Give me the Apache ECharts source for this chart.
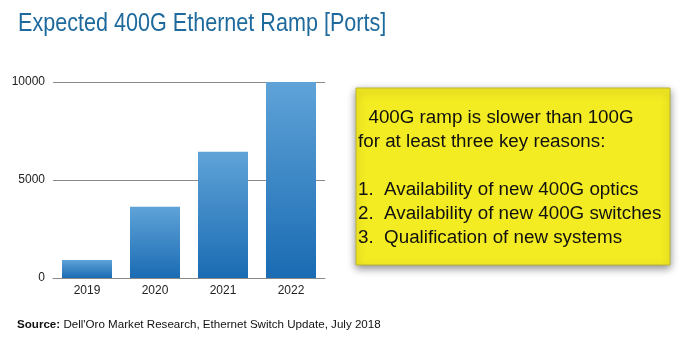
<!DOCTYPE html>
<html><head><meta charset="utf-8">
<script src="https://cdn.jsdelivr.net/npm/echarts@6/dist/echarts.min.js"></script>
<style>html,body{margin:0;padding:0;background:#fff}#c{width:681px;height:338px}</style>
</head><body><div id="c"></div>
<script>
const years = ['2019', '2020', '2021', '2022'];
const ports = [920, 3640, 6440, 10000];
const yTicks = [0, 5000, 10000];
const titleText = 'Expected 400G Ethernet Ramp [Ports]';
const boxLines = ['  400G ramp is slower than 100G', 'for at least three key reasons:', '', '1.  Availability of new 400G optics', '2.  Availability of new 400G switches', '3.  Qualification of new systems'];
const sourceText = 'Dell\'Oro Market Research, Ethernet Switch Update, July 2018';

const chart = echarts.init(document.getElementById('c'), null, {renderer: 'canvas'});
chart.setOption({
  animation: false,
  grid: {left: 53, right: 356, top: 82, bottom: 60, containLabel: false},
  xAxis: {
    type: 'category', data: years,
    axisLine: {lineStyle: {color: '#8a8a8a', width: 1}},
    axisTick: {show: false},
    axisLabel: {color: '#222', fontSize: 12, fontFamily: 'Liberation Sans, Arial', margin: 7}
  },
  yAxis: {
    type: 'value', min: 0, max: 10000, interval: 5000,
    axisLine: {show: false}, axisTick: {show: false},
    splitLine: {lineStyle: {color: '#8a8a8a', width: 1}},
    axisLabel: {color: '#222', fontSize: 12, fontFamily: 'Liberation Sans, Arial', margin: 8,
      formatter: v => yTicks.includes(v) ? String(v) : ''}
  },
  series: [{
    type: 'bar', data: ports, barWidth: 50,
    itemStyle: {color: new echarts.graphic.LinearGradient(0, 0, 0, 1, [
      {offset: 0, color: '#5fa3d8'}, {offset: 1, color: '#1a6bb3'}])}
  }],
  graphic: [
    {type: 'text', x: 18, y: 24, scaleX: 0.83, originX: 0, originY: 0,
      style: {text: titleText, fill: '#1f6a9d', verticalAlign: 'middle',
      font: '26px "Liberation Sans", Arial'}},
    {type: 'rect', shape: {x: 356, y: 88, width: 314, height: 177},
      style: {fill: '#f4ec22', stroke: '#b9b236', lineWidth: 1,
        shadowBlur: 8, shadowColor: 'rgba(0,0,0,0.45)', shadowOffsetX: 0, shadowOffsetY: 3}},
    {type: 'text', x: 358, y: 106, style: {text: boxLines.join('\n'), fill: '#111',
      font: '18.8px "Liberation Sans", Arial', lineHeight: 24}},
    {type: 'text', x: 17, y: 319, style: {
      text: '{b|Source:} ' + sourceText,
      rich: {b: {fontWeight: 'bold', fontSize: 11.6, fontFamily: 'Liberation Sans', fill: '#111'}},
      fill: '#111', font: '11.6px "Liberation Sans", Arial'}}
  ]
});
</script></body></html>
